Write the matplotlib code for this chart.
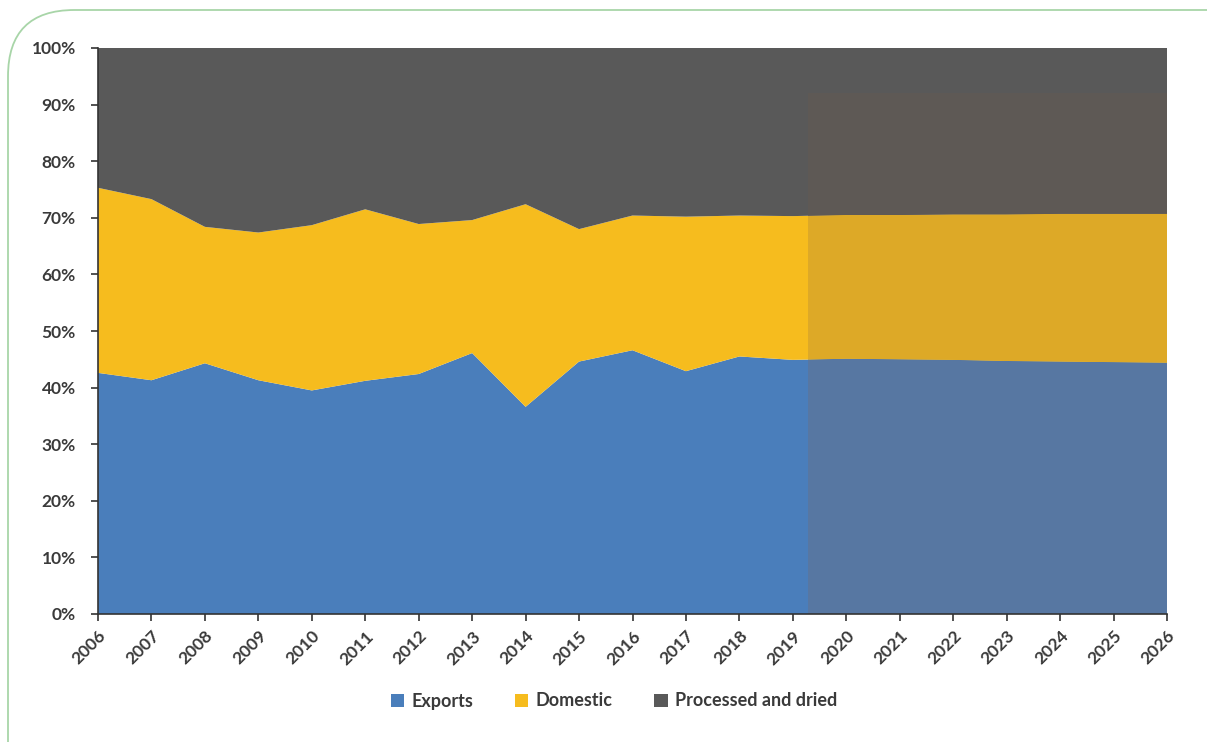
import matplotlib
matplotlib.use("Agg")
import matplotlib.pyplot as plt
from matplotlib.patches import Rectangle, FancyBboxPatch, Patch
import numpy as np

# data (shares in %)
years = list(range(2006, 2027))
exports = [42.6, 41.3, 44.3, 41.3, 39.5, 41.2, 42.4, 46.1, 36.6, 44.6, 46.6,
           42.9, 45.5, 44.9, 45.1, 45.0, 44.9, 44.7, 44.6, 44.5, 44.4]
domestic_top = [75.3, 73.3, 68.4, 67.4, 68.7, 71.5, 68.9, 69.6, 72.4, 68.0, 70.4,
                70.2, 70.4, 70.3, 70.5, 70.5, 70.6, 70.6, 70.7, 70.7, 70.7]
domestic = [t - e for t, e in zip(domestic_top, exports)]
processed = [100 - t for t in domestic_top]
series_names = ["Exports", "Domestic", "Processed and dried"]

forecast_start = 2019.28
forecast_top = 92

plt.rcParams['font.family'] = ['Lato', 'DejaVu Sans']

cols = ["#4a7ebb", "#f6bc1e", "#595959"]
cols_fc = ["#5777a2", "#dda927", "#5e5955"]

fig = plt.figure(figsize=(12.07, 7.42), dpi=100)
ax = fig.add_axes([98/1207, 1-614/742, (1167-98)/1207, (614-48)/742])

ax.stackplot(years, exports, domestic, processed, colors=cols, linewidth=0)
clip = Rectangle((forecast_start, 0), 2026 - forecast_start, forecast_top,
                 transform=ax.transData)
polys = ax.stackplot(years, exports, domestic, processed, colors=cols_fc, linewidth=0)
for p in polys:
    p.set_clip_path(clip)

ax.set_xlim(2006, 2026)
ax.set_ylim(0, 100)
ax.set_xticks(years)
ax.set_xticklabels([str(y) for y in years], rotation=45, ha='right',
                   rotation_mode='anchor', fontsize=12.5, fontweight='bold',
                   color='#3a3a3a')
ax.set_yticks(range(0, 101, 10))
ax.set_yticklabels([f"{v}%" for v in range(0, 101, 10)], fontsize=12.5,
                   fontweight='bold', color='#3a3a3a')
ax.tick_params(axis='both', direction='out', length=5, width=1.2, color='#333333')
ax.tick_params(axis='y', pad=11)
ax.tick_params(axis='x', pad=5)
for s in ['top', 'right']:
    ax.spines[s].set_visible(False)
for s in ['left', 'bottom']:
    ax.spines[s].set_color('#333333')
    ax.spines[s].set_linewidth(1.2)

handles = [Patch(facecolor=c, edgecolor='none') for c in cols]
fig.legend(handles, series_names, loc='center', bbox_to_anchor=(614/1207, 1-701/742),
           ncol=3, frameon=False, handlelength=0.75, handleheight=0.75,
           handletextpad=0.4, columnspacing=2.3, prop={'weight': 'bold', 'size': 13})
for t in fig.legends[0].get_texts():
    t.set_color('#3a3a3a')

# rounded green frame of the panel
frame = FancyBboxPatch((8/1207, -0.1), 1.2, 1 - 10/742 + 0.1,
                       boxstyle="round,pad=0,rounding_size=0.055",
                       transform=fig.transFigure, facecolor='none',
                       edgecolor='#a8d5a8', linewidth=1.3, mutation_aspect=1207/742)
fig.patches.append(frame)

fig.savefig("out.png", dpi=100)
